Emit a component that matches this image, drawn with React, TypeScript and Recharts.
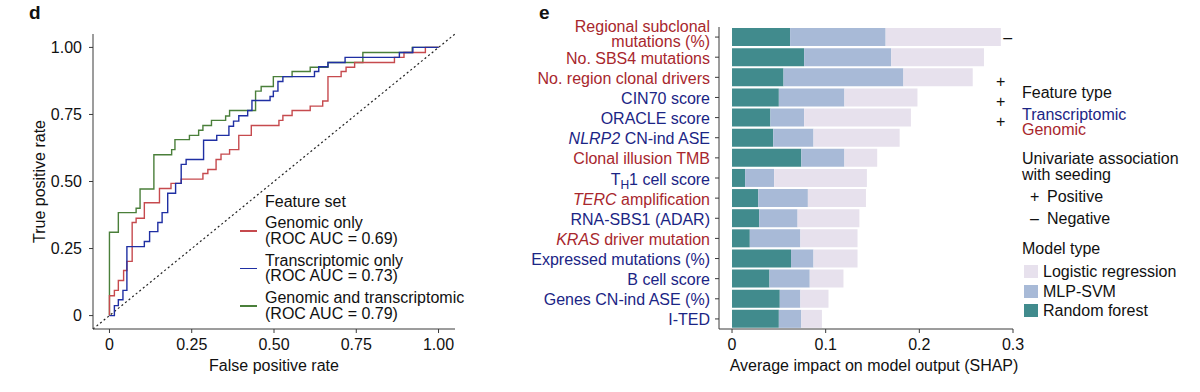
import React from 'react';
import { LineChart, Line, XAxis, YAxis, ReferenceLine, BarChart, Bar, ReferenceDot } from 'recharts';

const FONT = '"Liberation Sans", Arial, Helvetica, sans-serif';
const FS = 16;
const AXIS = '#3a3a3a';
const TEXT = '#111';
const RED_TXT = '#a8272d';
const NAVY_TXT = '#1b2585';

// panel d - ROC curves, [fpr, tpr] at the top of every vertical step
const genomicRoc: [number, number][] = [
  [0, 0], [0, 0.074], [0.015, 0.094], [0.027, 0.131], [0.043, 0.168], [0.053, 0.202],
  [0.069, 0.347], [0.081, 0.363], [0.106, 0.421], [0.152, 0.474], [0.187, 0.493],
  [0.218, 0.509], [0.284, 0.53], [0.299, 0.545], [0.324, 0.582], [0.339, 0.602],
  [0.365, 0.619], [0.393, 0.672], [0.431, 0.709], [0.515, 0.728], [0.527, 0.746],
  [0.555, 0.765], [0.61, 0.781], [0.648, 0.8], [0.664, 0.891], [0.704, 0.91],
  [0.719, 0.926], [0.745, 0.944], [0.866, 0.963], [0.895, 0.981], [0.96, 1], [1, 1],
];
const transcriptomicRoc: [number, number][] = [
  [0, 0], [0.015, 0.037], [0.027, 0.059], [0.041, 0.094], [0.053, 0.257], [0.106, 0.276],
  [0.122, 0.313], [0.147, 0.347], [0.16, 0.384], [0.177, 0.456], [0.201, 0.493],
  [0.218, 0.564], [0.233, 0.582], [0.286, 0.654], [0.326, 0.672], [0.363, 0.706],
  [0.377, 0.725], [0.393, 0.745], [0.42, 0.765], [0.433, 0.802], [0.488, 0.817],
  [0.498, 0.837], [0.512, 0.873], [0.527, 0.891], [0.623, 0.91], [0.636, 0.928],
  [0.664, 0.944], [0.716, 0.963], [0.881, 0.981], [0.922, 1], [1, 1],
];
const combinedRoc: [number, number][] = [
  [0, 0], [0, 0.311], [0.027, 0.384], [0.081, 0.4], [0.093, 0.472], [0.135, 0.6],
  [0.189, 0.619], [0.199, 0.656], [0.243, 0.672], [0.271, 0.691], [0.284, 0.709],
  [0.31, 0.728], [0.353, 0.744], [0.365, 0.765], [0.444, 0.837], [0.461, 0.854],
  [0.498, 0.891], [0.555, 0.91], [0.61, 0.926], [0.664, 0.944], [0.77, 0.981],
  [0.92, 1], [1, 1],
];
const rocTicks = [0, 0.25, 0.5, 0.75, 1];

const rocSeries = [
  { key: 'gen', name: 'Genomic only', auc: '0.69', color: '#c64a4e', points: genomicRoc },
  { key: 'tx', name: 'Transcriptomic only', auc: '0.73', color: '#1f2fa3', points: transcriptomicRoc },
  { key: 'both', name: 'Genomic and transcriptomic', auc: '0.79', color: '#4a7f3a', points: combinedRoc },
];
const drawOrder = ['both', 'gen', 'tx'];

// panel e - SHAP importance per model (segment lengths)
const features = [
  'Regional subclonal\nmutations (%)',
  'No. SBS4 mutations',
  'No. region clonal drivers',
  'CIN70 score',
  'ORACLE score',
  '*NLRP2* CN-ind ASE',
  'Clonal illusion TMB',
  'T_H_1 cell score',
  '*TERC* amplification',
  'RNA-SBS1 (ADAR)',
  '*KRAS* driver mutation',
  'Expressed mutations (%)',
  'B cell score',
  'Genes CN-ind ASE (%)',
  'I-TED',
];
const featureType = [
  'Genomic', 'Genomic', 'Genomic', 'Transcriptomic', 'Transcriptomic', 'Transcriptomic',
  'Genomic', 'Transcriptomic', 'Genomic', 'Transcriptomic', 'Genomic', 'Transcriptomic',
  'Transcriptomic', 'Transcriptomic', 'Transcriptomic',
];
const randomForest = [0.062, 0.077, 0.055, 0.05, 0.041, 0.044, 0.074, 0.014, 0.028, 0.029, 0.019, 0.063, 0.04, 0.051, 0.05];
const mlpSvm = [0.102, 0.093, 0.128, 0.07, 0.036, 0.043, 0.046, 0.031, 0.053, 0.041, 0.054, 0.024, 0.043, 0.022, 0.024];
const logisticRegression = [0.123, 0.099, 0.074, 0.078, 0.114, 0.092, 0.035, 0.099, 0.062, 0.066, 0.061, 0.047, 0.036, 0.03, 0.022];
const associations = [
  { row: 0, sign: '\u2013' },
  { row: 2, sign: '+' },
  { row: 3, sign: '+' },
  { row: 4, sign: '+' },
];
const shapTicks = [0, 0.1, 0.2, 0.3];
const SIGN_X = 0.29;

const modelTypes = [
  { key: 'lr', name: 'Logistic regression', color: '#e7e1ed' },
  { key: 'mlp', name: 'MLP-SVM', color: '#a8bad7' },
  { key: 'rf', name: 'Random forest', color: '#418b8d' },
];
const typeColor: Record<string, string> = { Transcriptomic: NAVY_TXT, Genomic: RED_TXT };

const shapData = features.map((f, i) => ({
  feature: f,
  rf: randomForest[i],
  mlp: mlpSvm[i],
  lr: logisticRegression[i],
}));

// *italic* and _subscript_ markup in the feature names
const richLine = (line: string) => {
  const parts = line.split(/([*_])/);
  let italic = false;
  let sub = false;
  let wasSub = false;
  const out: React.ReactNode[] = [];
  parts.forEach((p, i) => {
    if (p === '*') { italic = !italic; return; }
    if (p === '_') { sub = !sub; return; }
    if (!p) return;
    let dy = 0;
    if (sub && !wasSub) dy = 4;
    if (!sub && wasSub) dy = -4;
    wasSub = sub;
    out.push(
      <tspan key={i} dy={dy} fontStyle={italic ? 'italic' : 'normal'} fontSize={sub ? 12 : FS}>{p}</tspan>
    );
  });
  return out;
};

const FeatureTick = (props: any) => {
  const { x, y, payload } = props;
  const idx = features.indexOf(payload.value);
  const color = typeColor[featureType[idx]] || TEXT;
  const lines = String(payload.value).split('\n');
  const offsets = lines.length > 1 ? [-5.5, 9.5] : [6.5];
  return (
    <g>
      {lines.map((l, j) => (
        <text key={j} x={x} y={y + offsets[j]} textAnchor="end" fill={color} fontSize={FS}>
          {richLine(l)}
        </text>
      ))}
    </g>
  );
};

const fmtRoc = (v: number) => (v === 0 ? '0' : v.toFixed(2));
const fmtShap = (v: number) => (v === 0 ? '0' : String(v));

const abs = (left: number, top: number, extra: React.CSSProperties = {}): React.CSSProperties => ({
  position: 'absolute', left, top, fontSize: FS, lineHeight: '16px', whiteSpace: 'nowrap', color: TEXT, ...extra,
});

export default function App() {
  return (
    <div style={{ position: 'absolute', left: 0, top: 0, width: 1200, height: 392, background: '#fff', fontFamily: FONT, overflow: 'hidden' }}>
      <div style={abs(29, 3, { fontSize: 19, fontWeight: 'bold', lineHeight: '20px' })}>d</div>
      <div style={abs(539, 3, { fontSize: 19, fontWeight: 'bold', lineHeight: '20px' })}>e</div>

      <div style={{ position: 'absolute', left: 0, top: 0 }}>
        <LineChart width={470} height={392} margin={{ top: 34, right: 15, bottom: 21, left: 0 }}>
          <XAxis
            type="number"
            dataKey="fpr"
            domain={[-0.05, 1.05]}
            allowDataOverflow
            ticks={rocTicks}
            tickFormatter={fmtRoc}
            height={42}
            tickSize={4}
            tickMargin={6}
            stroke={AXIS}
            tick={{ fill: TEXT, fontSize: FS }}
            label={{ value: 'False positive rate', position: 'insideBottom', offset: 0, fill: TEXT, fontSize: FS }}
          />
          <YAxis
            type="number"
            dataKey="tpr"
            domain={[-0.05, 1.05]}
            allowDataOverflow
            ticks={rocTicks}
            tickFormatter={fmtRoc}
            width={93}
            tickSize={4}
            tickMargin={7}
            stroke={AXIS}
            tick={{ fill: TEXT, fontSize: FS }}
            label={{ value: 'True positive rate', angle: -90, position: 'center', dx: -7, fill: TEXT, fontSize: FS }}
          />
          <ReferenceLine
            segment={[{ x: -0.05, y: -0.05 }, { x: 1.05, y: 1.05 }]}
            stroke="#222"
            strokeWidth={1.2}
            strokeDasharray="2 2.6"
            ifOverflow="visible"
          />
          {drawOrder.map((k) => {
            const s = rocSeries.find((r) => r.key === k)!;
            return (
              <Line
                key={k}
                data={s.points.map(([fpr, tpr]) => ({ fpr, tpr }))}
                dataKey="tpr"
                name={s.name}
                type="stepAfter"
                stroke={s.color}
                strokeWidth={1.4}
                dot={false}
                activeDot={false}
                isAnimationActive={false}
              />
            );
          })}
        </LineChart>
      </div>

      <div style={abs(265, 194)}>Feature set</div>
      {rocSeries.map((s, i) => (
        <React.Fragment key={s.key}>
          <div style={{ position: 'absolute', left: 240, top: 230 + i * 37.7, width: 17, height: 1.5, background: s.color }} />
          <div style={abs(265, 215 + i * 37.7, { lineHeight: '15.5px' })}>
            {s.name}
            <br />
            (ROC AUC = {s.auc})
          </div>
        </React.Fragment>
      ))}

      <div style={{ position: 'absolute', left: 520, top: 0 }}>
        <BarChart
          width={680}
          height={392}
          layout="vertical"
          data={shapData}
          margin={{ top: 27, right: 187, bottom: 21, left: 0 }}
          barSize={18}
        >
          <XAxis
            type="number"
            domain={[-0.0139, 0.3]}
            allowDataOverflow
            ticks={shapTicks}
            tickFormatter={fmtShap}
            height={42}
            tickSize={4}
            tickMargin={6}
            stroke={AXIS}
            tick={{ fill: TEXT, fontSize: FS }}
            label={{ value: 'Average impact on model output (SHAP)', position: 'insideBottom', offset: 0, dx: 8, fill: TEXT, fontSize: FS }}
          />
          <YAxis
            type="category"
            dataKey="feature"
            width={199}
            interval={0}
            tickSize={4}
            tickMargin={5}
            stroke={AXIS}
            tick={<FeatureTick />}
          />
          <Bar dataKey="rf" stackId="s" fill={modelTypes[2].color} isAnimationActive={false} />
          <Bar dataKey="mlp" stackId="s" fill={modelTypes[1].color} isAnimationActive={false} />
          <Bar dataKey="lr" stackId="s" fill={modelTypes[0].color} isAnimationActive={false} />
          {associations.map((a) => (
            <ReferenceDot
              key={a.row}
              x={SIGN_X}
              y={features[a.row]}
              r={0}
              ifOverflow="visible"
              shape={(p: any) => (
                <text
                  x={p.cx + (a.sign === '+' ? -3 : 4)}
                  y={p.cy + (a.sign === '+' ? 4 : 0)}
                  textAnchor="middle"
                  dominantBaseline="central"
                  fontSize={FS}
                  fill={TEXT}
                >
                  {a.sign}
                </text>
              )}
            />
          ))}
        </BarChart>
      </div>

      <div style={abs(1022, 85)}>Feature type</div>
      <div style={abs(1022, 107, { color: typeColor.Transcriptomic, lineHeight: '15px' })}>
        Transcriptomic
        <br />
        <span style={{ color: typeColor.Genomic }}>Genomic</span>
      </div>
      <div style={abs(1022, 151)}>
        Univariate association
        <br />
        with seeding
      </div>
      <div style={abs(1030, 189)}>+</div>
      <div style={abs(1047, 189)}>Positive</div>
      <div style={abs(1030, 211)}>{'\u2013'}</div>
      <div style={abs(1047, 211)}>Negative</div>
      <div style={abs(1022, 241)}>Model type</div>
      {modelTypes.map((m, i) => (
        <React.Fragment key={m.key}>
          <div style={{ position: 'absolute', left: 1024, top: 265 + i * 19.7, width: 14, height: 13, background: m.color }} />
          <div style={abs(1043, 264 + i * 19.7)}>{m.name}</div>
        </React.Fragment>
      ))}
    </div>
  );
}
